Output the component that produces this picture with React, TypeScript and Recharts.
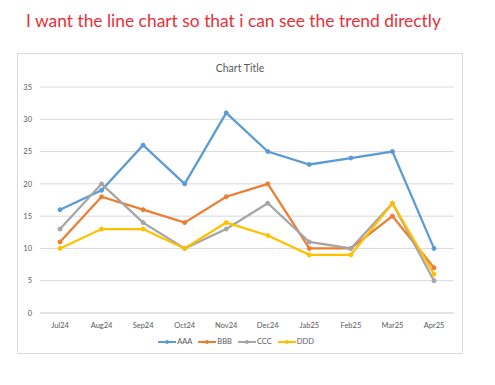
import React from "react";
import { CartesianGrid, Legend, Line, LineChart, XAxis, YAxis } from "recharts";

const months = ["Jul24", "Aug24", "Sep24", "Oct24", "Nov24", "Dec24", "Jab25", "Feb25", "Mar25", "Apr25"];
const aaa = [16, 19, 26, 20, 31, 25, 23, 24, 25, 10];
const bbb = [11, 18, 16, 14, 18, 20, 10, 10, 15, 7];
const ccc = [13, 20, 14, 10, 13, 17, 11, 10, 17, 5];
const ddd = [10, 13, 13, 10, 14, 12, 9, 9, 17, 6];
const yTicks = [0, 5, 10, 15, 20, 25, 30, 35];

const SERIES = [
  { key: "AAA", color: "#5b9bd5" },
  { key: "BBB", color: "#ed7d31" },
  { key: "CCC", color: "#a5a5a5" },
  { key: "DDD", color: "#ffc000" },
];

const data = months.map((m, i) => ({ month: m, AAA: aaa[i], BBB: bbb[i], CCC: ccc[i], DDD: ddd[i] }));

const FONT = "Lato, 'Open Sans', sans-serif";

function LegendRow() {
  return (
    <div style={{ display: "flex", justifyContent: "center", gap: 6, paddingTop: 4, fontFamily: FONT, fontSize: 7.5, color: "#595959" }}>
      {SERIES.map((s) => (
        <div key={s.key} style={{ display: "flex", alignItems: "center", gap: 1 }}>
          <svg width={18} height={6}>
            <line x1={0} y1={3} x2={18} y2={3} stroke={s.color} strokeWidth={2} />
            <circle cx={9} cy={3} r={2} fill={s.color} />
          </svg>
          <span>{s.key}</span>
        </div>
      ))}
    </div>
  );
}

export default function App() {
  return (
    <div style={{ position: "absolute", left: 0, top: 0, width: 495, height: 385, background: "#fff" }}>
      <div style={{ position: "absolute", left: 26, top: 10, fontFamily: FONT, fontSize: 17.4, color: "#e8303a", whiteSpace: "nowrap" }}>
        I want the line chart so that i can see the trend directly
      </div>
      <div style={{ position: "absolute", left: 17, top: 53, width: 446, height: 301, border: "1px solid #d9d9d9", boxSizing: "border-box" }}>
        <div style={{ position: "absolute", left: 0, right: 0, top: 8, textAlign: "center", fontFamily: FONT, fontSize: 10.5, color: "#595959" }}>
          Chart Title
        </div>
        <LineChart width={446} height={301} data={data} margin={{ top: 33, right: 10, bottom: 8, left: 0 }}>
          <CartesianGrid vertical={false} stroke="#d9d9d9" />
          <XAxis
            dataKey="month"
            height={20}
            padding={{ left: 20, right: 20 }}
            axisLine={{ stroke: "#d9d9d9" }}
            tickLine={false}
            tick={{ fontSize: 7.5, fill: "#595959", fontFamily: FONT }}
            tickMargin={4}
          />
          <YAxis
            width={22}
            domain={[0, 35]}
            ticks={yTicks}
            axisLine={false}
            tickLine={false}
            tick={{ fontSize: 7.5, fill: "#595959", fontFamily: FONT }}
            tickMargin={2}
          />
          <Legend verticalAlign="bottom" height={14} content={() => <LegendRow />} />
          {SERIES.map((s) => (
            <Line
              key={s.key}
              dataKey={s.key}
              stroke={s.color}
              strokeWidth={2.25}
              dot={{ r: 2, fill: s.color, stroke: s.color, strokeWidth: 1 }}
              isAnimationActive={false}
            />
          ))}
        </LineChart>
      </div>
    </div>
  );
}
